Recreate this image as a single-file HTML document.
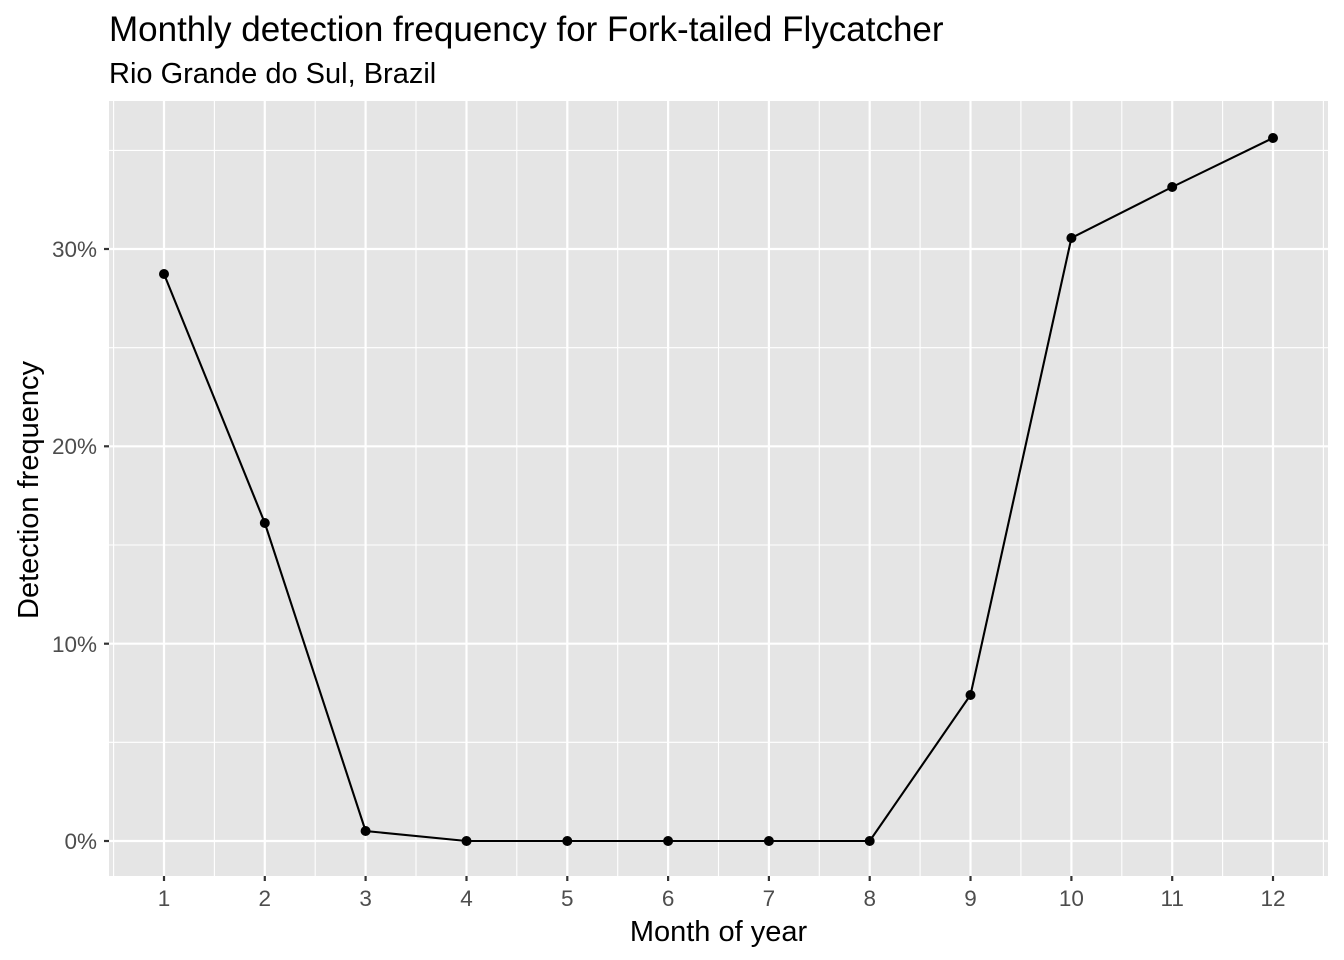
<!DOCTYPE html>
<html><head><style>body{margin:0;background:#fff}svg{display:block}</style></head><body>
<svg width="1344" height="960" xmlns="http://www.w3.org/2000/svg" font-family="Liberation Sans, Arial, sans-serif">
<rect x="109" y="101" width="1219" height="775" fill="#e5e5e5"/>
<g stroke="#fff" stroke-width="1.1">
<line x1="109" x2="1328" y1="742.3" y2="742.3"/><line x1="109" x2="1328" y1="545" y2="545"/><line x1="109" x2="1328" y1="347.7" y2="347.7"/><line x1="109" x2="1328" y1="150.4" y2="150.4"/>
<line y1="101" y2="876" x1="113.6" x2="113.6"/><line y1="101" y2="876" x1="214.4" x2="214.4"/><line y1="101" y2="876" x1="315.2" x2="315.2"/><line y1="101" y2="876" x1="416" x2="416"/><line y1="101" y2="876" x1="516.8" x2="516.8"/><line y1="101" y2="876" x1="617.7" x2="617.7"/><line y1="101" y2="876" x1="718.5" x2="718.5"/><line y1="101" y2="876" x1="819.3" x2="819.3"/><line y1="101" y2="876" x1="920.1" x2="920.1"/><line y1="101" y2="876" x1="1020.9" x2="1020.9"/><line y1="101" y2="876" x1="1121.8" x2="1121.8"/><line y1="101" y2="876" x1="1222.6" x2="1222.6"/><line y1="101" y2="876" x1="1323.4" x2="1323.4"/>
</g>
<g stroke="#fff" stroke-width="2.2">
<line x1="109" x2="1328" y1="841" y2="841"/><line x1="109" x2="1328" y1="643.7" y2="643.7"/><line x1="109" x2="1328" y1="446.3" y2="446.3"/><line x1="109" x2="1328" y1="249" y2="249"/>
<line y1="101" y2="876" x1="164" x2="164"/><line y1="101" y2="876" x1="264.8" x2="264.8"/><line y1="101" y2="876" x1="365.6" x2="365.6"/><line y1="101" y2="876" x1="466.5" x2="466.5"/><line y1="101" y2="876" x1="567.3" x2="567.3"/><line y1="101" y2="876" x1="668.1" x2="668.1"/><line y1="101" y2="876" x1="768.9" x2="768.9"/><line y1="101" y2="876" x1="869.7" x2="869.7"/><line y1="101" y2="876" x1="970.5" x2="970.5"/><line y1="101" y2="876" x1="1071.4" x2="1071.4"/><line y1="101" y2="876" x1="1172.2" x2="1172.2"/><line y1="101" y2="876" x1="1273" x2="1273"/>
</g>
<polyline fill="none" stroke="#000" stroke-width="2.1" points="164,274 264.8,523 365.6,831 466.5,841 567.3,841 668.1,841 768.9,841 869.7,841 970.5,695 1071.4,238 1172.2,187 1273,138"/>
<g fill="#000"><circle cx="164" cy="274" r="5"/><circle cx="264.8" cy="523" r="5"/><circle cx="365.6" cy="831" r="5"/><circle cx="466.5" cy="841" r="5"/><circle cx="567.3" cy="841" r="5"/><circle cx="668.1" cy="841" r="5"/><circle cx="768.9" cy="841" r="5"/><circle cx="869.7" cy="841" r="5"/><circle cx="970.5" cy="695" r="5"/><circle cx="1071.4" cy="238" r="5"/><circle cx="1172.2" cy="187" r="5"/><circle cx="1273" cy="138" r="5"/></g>
<g stroke="#333" stroke-width="2.2">
<line x1="104" x2="109" y1="841" y2="841"/><line x1="104" x2="109" y1="643.7" y2="643.7"/><line x1="104" x2="109" y1="446.3" y2="446.3"/><line x1="104" x2="109" y1="249" y2="249"/>
<line y1="876" y2="881" x1="164" x2="164"/><line y1="876" y2="881" x1="264.8" x2="264.8"/><line y1="876" y2="881" x1="365.6" x2="365.6"/><line y1="876" y2="881" x1="466.5" x2="466.5"/><line y1="876" y2="881" x1="567.3" x2="567.3"/><line y1="876" y2="881" x1="668.1" x2="668.1"/><line y1="876" y2="881" x1="768.9" x2="768.9"/><line y1="876" y2="881" x1="869.7" x2="869.7"/><line y1="876" y2="881" x1="970.5" x2="970.5"/><line y1="876" y2="881" x1="1071.4" x2="1071.4"/><line y1="876" y2="881" x1="1172.2" x2="1172.2"/><line y1="876" y2="881" x1="1273" x2="1273"/>
</g>
<g fill="#4d4d4d" font-size="22.5" text-anchor="end">
<text x="97" y="849">0%</text><text x="97" y="652">10%</text><text x="97" y="454">20%</text><text x="97" y="257">30%</text>
</g>
<g fill="#4d4d4d" font-size="22.5" text-anchor="middle">
<text x="164" y="906">1</text><text x="264.8" y="906">2</text><text x="365.6" y="906">3</text><text x="466.5" y="906">4</text><text x="567.3" y="906">5</text><text x="668.1" y="906">6</text><text x="768.9" y="906">7</text><text x="869.7" y="906">8</text><text x="970.5" y="906">9</text><text x="1071.4" y="906">10</text><text x="1172.2" y="906">11</text><text x="1273" y="906">12</text>
</g>
<text x="718.5" y="941" font-size="29" text-anchor="middle">Month of year</text>
<text transform="translate(38,490) rotate(-90)" font-size="29" text-anchor="middle">Detection frequency</text>
<text x="109" y="41" font-size="35">Monthly detection frequency for Fork-tailed Flycatcher</text>
<text x="109" y="83" font-size="29">Rio Grande do Sul, Brazil</text>
</svg>
</body></html>
